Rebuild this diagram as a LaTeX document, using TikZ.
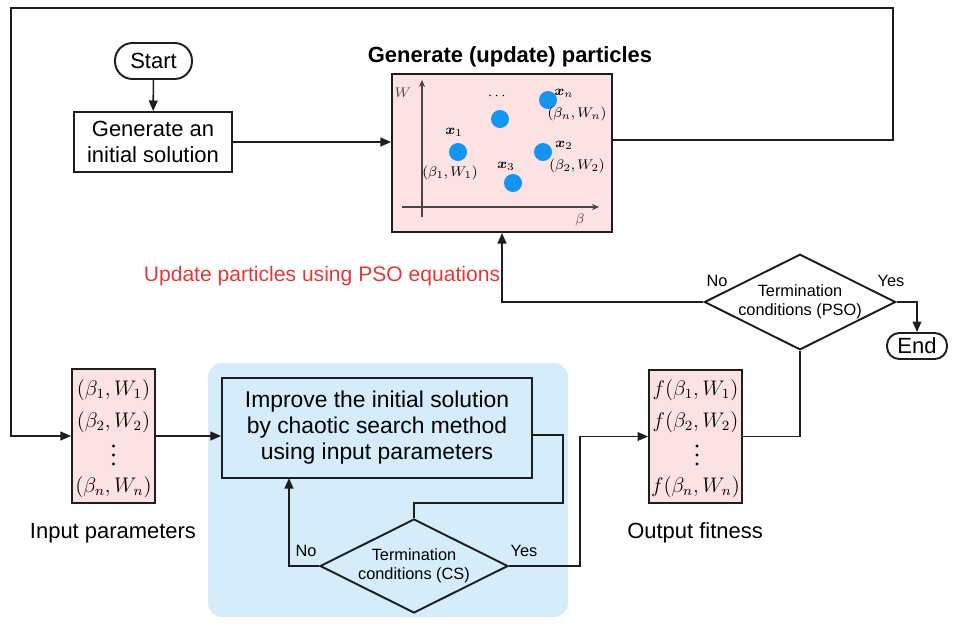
\documentclass[tikz,border=0pt]{standalone}
\usepackage[no-math]{fontspec}
\usepackage{amsmath}
\setmainfont{Liberation Sans}
\usetikzlibrary{shapes.geometric,arrows.meta}
\definecolor{pinkbg}{RGB}{252,226,226}
\definecolor{bluebg}{RGB}{213,236,251}
\definecolor{dotblue}{RGB}{20,150,240}
\definecolor{redtxt}{RGB}{230,55,55}
\definecolor{linec}{RGB}{30,30,30}
\definecolor{axisc}{RGB}{70,70,70}
\newcommand{\fmain}{\fontsize{12.5}{14.5}\selectfont}
\newcommand{\fcs}{\fontsize{13}{14.8}\selectfont}
\newcommand{\fsmall}{\fontsize{9.3}{10.6}\selectfont}
\newcommand{\fmath}{\fontsize{11.5}{14}\selectfont}
\newcommand{\ftiny}{\fontsize{8.5}{10}\selectfont}
\begin{document}
\begin{tikzpicture}[x=0.02cm,y=-0.02cm,
  box/.style={draw=linec, line width=1.1pt, inner sep=0pt, align=center},
  conn/.style={draw=linec, line width=0.9pt},
  arr/.style={conn, -{Triangle[length=6pt,width=5pt]}},
  dec/.style={diamond, draw=linec, line width=1.1pt, inner sep=0pt, aspect=2, align=center, font=\fsmall},
  dot/.style={circle, fill=dotblue, minimum size=18*0.02cm, inner sep=0pt},
  lab/.style={inner sep=0pt, font=\ftiny},
  mline/.style={inner sep=0pt, font=\fmath},
  vdot/.style={circle, fill=black, minimum size=3.2*0.02cm, inner sep=0pt},
  yn/.style={inner sep=0pt, font=\fsmall}]
\useasboundingbox (0,0) rectangle (960,637);
% blue background of chaotic search
\node[fill=bluebg, rounded corners=8pt, minimum width=360*0.02cm, minimum height=254*0.02cm, inner sep=0pt] (bg) at (388,490) {};
% top part
\node[box, rounded corners=10pt, minimum width=77*0.02cm, minimum height=36*0.02cm, font=\fmain] (start) at (153.5,61) {Start};
\node[box, minimum width=158*0.02cm, minimum height=60*0.02cm, font=\fmain] (gen) at (153,142) {Generate an\\initial solution};
\node[inner sep=0pt, font=\bfseries\fontsize{12.5}{15}\selectfont] (title) at (510,57) {Generate (update) particles};
\node[box, fill=pinkbg, minimum width=220*0.02cm, minimum height=158*0.02cm] (part) at (502,153) {};
% plot inside
\draw[axisc, line width=0.6pt, -{Stealth[length=4pt,width=3.5pt]}] (422,217) -- (422,80);
\draw[axisc, line width=0.6pt, -{Stealth[length=4pt,width=3.5pt]}] (402,207) -- (599,207);
\node[lab, text=axisc] (wl) at (403,93) {$W$};
\node[lab, text=axisc] (bl) at (580,220) {$\beta$};
\node[dot] (p1) at (458,152) {};
\node[dot] (pd) at (500,119) {};
\node[dot] (pn) at (548,100) {};
\node[dot] (p2) at (543,152) {};
\node[dot] (p3) at (513,183) {};
\node[lab] (l1) at (454,132) {$\boldsymbol{x}_1$};
\node[lab] (c1) at (450,173) {$(\beta_1,W_1)$};
\node[lab] (ld) at (498,96) {$\cdots$};
\node[lab] (ln) at (564,93) {$\boldsymbol{x}_n$};
\node[lab] (cn) at (577,114) {$(\beta_n,W_n)$};
\node[lab] (l2) at (564,145) {$\boldsymbol{x}_2$};
\node[lab] (c2) at (577,166) {$(\beta_2,W_2)$};
\node[lab] (l3) at (506,166) {$\boldsymbol{x}_3$};
% red label
\node[inner sep=0pt, text=redtxt, font=\fontsize{12}{14}\selectfont] (upd) at (322,276) {Update particles using PSO equations};
% PSO termination
\node[dec, fill=white, minimum width=186*0.02cm, minimum height=94*0.02cm] (pso) at (800,302) {Termination\\conditions (PSO)};
\node[box, rounded corners=7pt, minimum width=60*0.02cm, minimum height=26*0.02cm, font=\fmain] (end) at (917,346) {End};
\node[yn] (pno) at (717,281) {No};
\node[yn] (pyes) at (891,281) {Yes};
% bottom row
\node[box, fill=pinkbg, minimum width=83*0.02cm, minimum height=134*0.02cm] (input) at (113.5,436) {};
\node[mline] (i1) at (113.5,390) {$(\beta_1,W_1)$};
\node[mline] (i2) at (113.5,422) {$(\beta_2,W_2)$};
\foreach \yy in {446,455,464} \node[vdot] at (113.5,\yy) {};
\node[mline] (i4) at (113.5,487) {$(\beta_n,W_n)$};
\node[inner sep=0pt, font=\fmain] (inl) at (113,533) {Input parameters};
\node[box, fill=pinkbg, minimum width=93*0.02cm, minimum height=133*0.02cm] (output) at (695.5,436.5) {};
\node[mline] (o1) at (695.5,390) {$f(\beta_1,W_1)$};
\node[mline] (o2) at (695.5,422) {$f(\beta_2,W_2)$};
\foreach \yy in {446,455,464} \node[vdot] at (697,\yy) {};
\node[mline] (o4) at (695.5,487) {$f(\beta_n,W_n)$};
\node[inner sep=0pt, font=\fmain] (outl) at (695,533) {Output fitness};
\node[box, fill=bluebg, minimum width=310*0.02cm, minimum height=100*0.02cm, font=\fcs] (cs) at (377,428) {Improve the initial solution\\by chaotic search method\\using input parameters};
\node[dec, fill=bluebg, minimum width=188*0.02cm, minimum height=94*0.02cm] (csd) at (414,566) {Termination\\conditions (CS)};
\node[yn] (cno) at (306,551) {No};
\node[yn] (cyes) at (524,551) {Yes};
% coordinates
\coordinate (tr) at (893,8);
\coordinate (tl) at (11,8);
\coordinate (csr) at (563,503);
\coordinate (csno) at (289,478);
\coordinate (ysc) at (580,566);
% connectors
\draw[arr] (start) -- (gen);
\draw[arr] (gen.east) -- (gen.east -| part.west);
\draw[arr] (part.east |- 0,140) -| (tr) -- (tl) |- (input.west);
\draw[arr] (input.east) -- (input.east -| cs.west);
\draw[conn] (cs.east |- 0,435) -| (csr) -| (csd.north);
\draw[arr] (csd.west) -| (csno);
\draw[arr] (csd.east) -- (ysc) |- (output.west);
\draw[conn] (output.east) -| (pso.south);
\draw[arr] (pso.west) -| (part.south);
\draw[arr] (pso.east) -| (end.north);
\end{tikzpicture}
\end{document}
